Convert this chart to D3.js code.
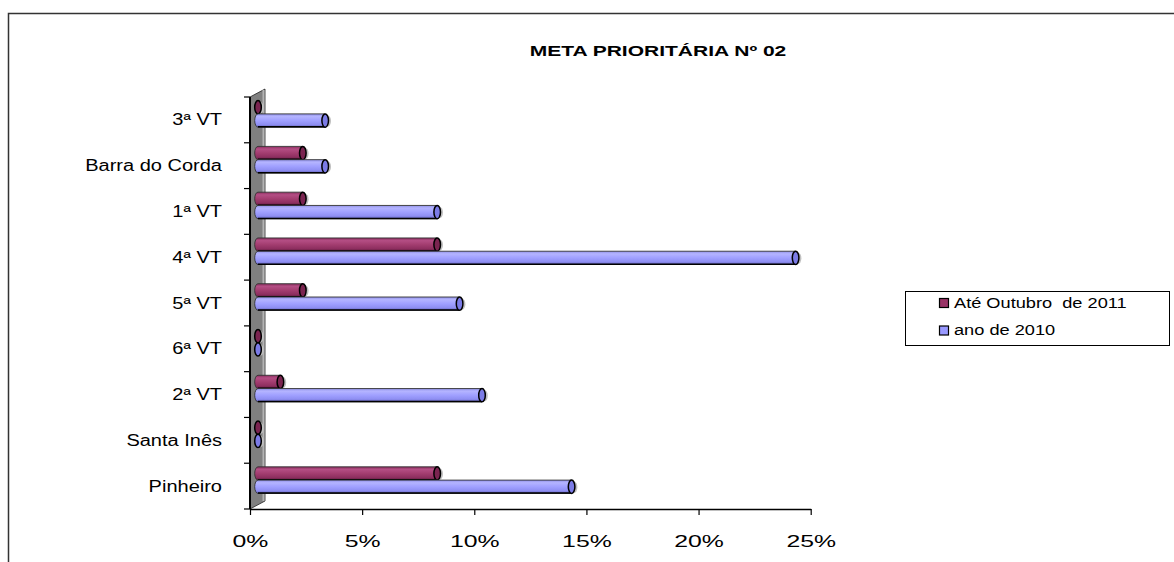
<!DOCTYPE html>
<html>
<head>
<meta charset="utf-8">
<script src="https://cdn.jsdelivr.net/npm/d3@7"></script>
<style>
  html, body { margin: 0; padding: 0; background: #fff; }
  svg { display: block; }
  text { font-family: "Liberation Sans", Arial, sans-serif; fill: #000; }
</style>
</head>
<body>
<svg id="chart" width="1174" height="562"></svg>
<script>
// ---- data ----
const title = "META PRIORITÁRIA Nº 02";
const categories = ["3ª VT", "Barra do Corda", "1ª VT", "4ª VT", "5ª VT", "6ª VT", "2ª VT", "Santa Inês", "Pinheiro"];
const seriesNames = ["Até Outubro  de 2011", "ano de 2010"];
const valuesOct2011 = [0, 0.02, 0.02, 0.08, 0.02, 0, 0.01, 0, 0.08];
const values2010 = [0.03, 0.03, 0.08, 0.24, 0.09, 0, 0.10, 0, 0.14];
const tickValues = [0, 0.05, 0.10, 0.15, 0.20, 0.25];

const series = [
  { name: seriesNames[0], values: valuesOct2011, key: "red" },
  { name: seriesNames[1], values: values2010, key: "blue" }
];
const palette = {
  red:  { base: "#993366", cap: "#7a2450", stops: ["#8a2c5e", "#b44e84", "#a33d70", "#8e2f60", "#5e1a3d"] },
  blue: { base: "#9999ff", cap: "#7b7be6", stops: ["#9090e8", "#b4b4ff", "#a0a0ff", "#8e8ef2", "#6262b8"] }
};

const svg = d3.select("#chart");

function stretch(sel, k) {
  sel.each(function () {
    const w = this.getComputedTextLength();
    d3.select(this).attr("textLength", w * k).attr("lengthAdjust", "spacingAndGlyphs");
  });
}

// outer frame
svg.append("rect").attr("x", 8.5).attr("y", 13.5).attr("width", 1200).attr("height", 600)
  .attr("fill", "none").attr("stroke", "#333").attr("stroke-width", 1.5);

// defs gradients
const defs = svg.append("defs");
Object.entries(palette).forEach(([k, p]) => {
  const g = defs.append("linearGradient").attr("id", "g-" + k)
    .attr("x1", 0).attr("y1", 0).attr("x2", 0).attr("y2", 1);
  [0, 0.2, 0.5, 0.8, 1].forEach((o, i) => g.append("stop").attr("offset", o).attr("stop-color", p.stops[i]));
});

// scales
const xAxisScale = d3.scaleLinear().domain([0, 0.25]).range([250, 810.7]);
const xBar = d3.scaleLinear().domain([0, 0.25]).range([258, 818]);
const yBand = d3.scaleBand().domain(categories).range([97, 509]).paddingInner(0.42).paddingOuter(0.21);
const ySub = d3.scaleBand().domain(series.map(s => s.key)).range([0, yBand.bandwidth()]);
const depthDy = -6;

// title
svg.append("text").attr("x", 658).attr("y", 56).attr("text-anchor", "middle")
  .attr("font-size", 15).attr("font-weight", "bold").text(title).call(stretch, 1.4);

// back wall (3D)
const wallTop = yBand.range()[0], wallBot = yBand.range()[1];
svg.append("polygon")
  .attr("points", [[250, wallTop], [265, wallTop - 8], [265, wallBot - 8], [250, wallBot]].map(p => p.join(",")).join(" "))
  .attr("fill", "#808080").attr("stroke", "#222").attr("stroke-width", 0.8);
svg.append("line").attr("x1", 263.5).attr("x2", 263.5).attr("y1", wallTop - 7).attr("y2", wallBot - 8)
  .attr("stroke", "#b4b4b4").attr("stroke-width", 2);

// category axis line and ticks at band boundaries
svg.append("line").attr("x1", 250).attr("x2", 250).attr("y1", wallTop).attr("y2", wallBot)
  .attr("stroke", "#000").attr("stroke-width", 2);
const step = yBand.step();
svg.append("g").selectAll("line").data(d3.range(categories.length + 1)).join("line")
  .attr("x1", 244).attr("x2", 250)
  .attr("y1", i => wallTop + i * step).attr("y2", i => wallTop + i * step)
  .attr("stroke", "#000").attr("stroke-width", 1.2);

// category labels
svg.append("g").selectAll("text").data(categories).join("text")
  .attr("x", 222).attr("y", d => yBand(d) + yBand.bandwidth() / 2)
  .attr("text-anchor", "end").attr("dominant-baseline", "central")
  .attr("font-size", 16).style("white-space", "pre").text(d => d).call(stretch, 1.25);

// value axis
const xAxis = d3.axisBottom(xAxisScale).tickValues(tickValues).tickFormat(d3.format(".0%"))
  .tickSize(6).tickSizeOuter(0).tickPadding(21);
const ax = svg.append("g").attr("transform", "translate(0,509)").call(xAxis);
ax.select(".domain").attr("stroke", "#000").attr("stroke-width", 1.6);
ax.selectAll(".tick line").attr("stroke", "#000").attr("stroke-width", 1.2);
ax.selectAll(".tick text").attr("font-size", 16).attr("font-family", "Liberation Sans, Arial, sans-serif")
  .attr("fill", "#000").call(stretch, 1.55);

// bars (cylinders)
const capRx = 3.3;
const gBars = svg.append("g");
series.forEach(s => {
  const p = palette[s.key];
  const h = ySub.bandwidth();
  const g = gBars.append("g").selectAll("g").data(categories.map((c, i) => ({ c, v: s.values[i] }))).join("g")
    .attr("transform", d => `translate(0,${yBand(d.c) + ySub(s.key) + depthDy})`);
  // shadow behind cap
  g.append("ellipse").attr("cx", d => xBar(d.v) + 2.5).attr("cy", h / 2 + 0.5)
    .attr("rx", capRx).attr("ry", h / 2 - 1).attr("fill", "#c0c0c0");
  const body = g.filter(d => d.v > 0);
  body.append("path")
    .attr("d", d => {
      const x0 = xBar(0), x1 = xBar(d.v);
      return `M${x1},0 L${x0},0 A${capRx},${h / 2} 0 0 0 ${x0},${h} L${x1},${h} Z`;
    })
    .attr("fill", `url(#g-${s.key})`).attr("stroke", "#333").attr("stroke-width", 0.9);
  // heavier bottom edge
  body.append("line").attr("x1", xBar(0)).attr("x2", d => xBar(d.v))
    .attr("y1", h - 0.3).attr("y2", h - 0.3).attr("stroke", "#000").attr("stroke-width", 1.5);
  // end cap
  g.append("ellipse").attr("cx", d => xBar(d.v)).attr("cy", h / 2)
    .attr("rx", capRx).attr("ry", h / 2)
    .attr("fill", p.cap).attr("stroke", "#000").attr("stroke-width", 1.5);
});

// legend
const lg = svg.append("g");
lg.append("rect").attr("x", 905.5).attr("y", 291.5).attr("width", 264).attr("height", 54)
  .attr("fill", "#fff").attr("stroke", "#000").attr("stroke-width", 1);
const rowsY = [302.5, 330];
const items = lg.selectAll("g.item").data(series).join("g").attr("class", "item")
  .attr("transform", (d, i) => `translate(0,${rowsY[i]})`);
items.append("rect").attr("x", 939.5).attr("y", -4).attr("width", 9).attr("height", 9)
  .attr("fill", d => palette[d.key].base).attr("stroke", "#000").attr("stroke-width", 1.2);
items.append("text").attr("x", 954).attr("y", 0).attr("dominant-baseline", "central")
  .attr("font-size", 14).style("white-space", "pre").text(d => d.name).call(stretch, 1.3);
</script>
</body>
</html>
